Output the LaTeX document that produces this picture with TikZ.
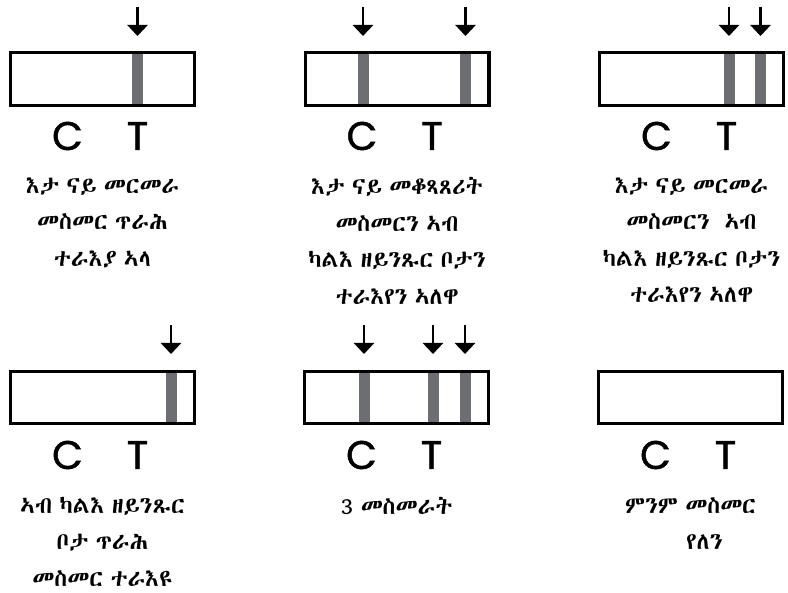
\documentclass[tikz,border=0pt]{standalone}
\usepackage{fontspec}
\IfFontExistsTF{Abyssinica SIL}{\newfontfamily\ethfont[WordSpace=0.7]{Abyssinica SIL}}{%
  \IfFontExistsTF{FreeSerif}{\newfontfamily\ethfont[WordSpace=0.7]{FreeSerif}}{%
    \newfontfamily\ethfont{DejaVu Sans}}}
\newfontfamily\letterfont[FakeBold=1.2]{Poppins}
\usetikzlibrary{shapes,arrows.meta}
\definecolor{bandgray}{HTML}{6D6E71}
\tikzstyle{strip} = [draw, line width=3.3pt, rectangle,
    minimum width=183.7pt, minimum height=52.6pt, inner sep=0pt]
\tikzstyle{band} = [fill=bandgray, rectangle, inner sep=0pt,
    minimum width=11pt, minimum height=52.6pt]
\tikzstyle{pointer} = [line width=2.6pt, -{Triangle[width=20pt,length=11pt]}]
\tikzstyle{letter} = [font=\letterfont\fontsize{40}{40}\selectfont, anchor=base, inner sep=0pt]
\tikzstyle{caption} = [font=\ethfont\fontsize{23.5}{36.5}\selectfont, align=center,
    anchor=north, inner sep=0pt]

\begin{document}
\begin{tikzpicture}[x=1pt,y=-1pt]
\useasboundingbox (0,0) rectangle (788,593);

% top row
\node[band] (b1) at (137.5,79) {};
\node[strip] (s1) at (102.5,79) {};
\coordinate (t1) at (137.5,7);
\coordinate (h1) at (137.5,36);
\draw[pointer] (t1) -- (h1);
\node[letter] (c1) at (67.5,150) {C};
\node[letter] (x1) at (137.5,150) {T};
\node[caption] (l1) at (102.5,177.5) {እታ ናይ መርመራ\\መስመር ጥራሕ\\ተራእያ ኣላ};

\node[band] (b2a) at (363,79) {};
\node[band] (b2b) at (465.5,79) {};
\node[strip] (s2) at (397,79) {};
\coordinate (t2a) at (363,7);
\coordinate (h2a) at (363,36);
\coordinate (t2b) at (465.5,7);
\coordinate (h2b) at (465.5,36);
\draw[pointer] (t2a) -- (h2a);
\draw[pointer] (t2b) -- (h2b);
\node[letter] (c2) at (362,150) {C};
\node[letter] (x2) at (432,150) {T};
\node[caption] (l2) at (397,177.5) {እታ ናይ መቆጻጸሪት\\መስመርን ኣብ\\ካልእ ዘይንጹር ቦታን\\ተራእየን ኣለዋ};

\node[band] (b3a) at (729,79) {};
\node[band] (b3b) at (760.5,79) {};
\node[strip] (s3) at (691.5,79) {};
\coordinate (t3a) at (729,7);
\coordinate (h3a) at (729,36);
\coordinate (t3b) at (760.5,7);
\coordinate (h3b) at (760.5,36);
\draw[pointer] (t3a) -- (h3a);
\draw[pointer] (t3b) -- (h3b);
\node[letter] (c3) at (656.5,150) {C};
\node[letter] (x3) at (726.5,150) {T};
\node[caption] (l3) at (691.5,177.5) {እታ ናይ መርመራ\\መስመርን~ ኣብ\\ካልእ ዘይንጹር ቦታን\\ተራእየን ኣለዋ};

% bottom row
\node[band] (b4) at (171,397.5) {};
\node[strip] (s4) at (102.5,397.5) {};
\coordinate (t4) at (171,325);
\coordinate (h4) at (171,354);
\draw[pointer] (t4) -- (h4);
\node[letter] (c4) at (67.5,469) {C};
\node[letter] (x4) at (137.5,469) {T};
\node[caption] (l4) at (102.5,497) {ኣብ ካልእ ዘይንጹር\\ቦታ ጥራሕ\\መስመር ተራእዩ};

\node[band] (b5a) at (364,397.5) {};
\node[band] (b5b) at (433,397.5) {};
\node[band] (b5c) at (465,397.5) {};
\node[strip] (s5) at (396.5,397.5) {};
\coordinate (t5a) at (364,325);
\coordinate (h5a) at (364,354);
\coordinate (t5b) at (433,325);
\coordinate (h5b) at (433,354);
\coordinate (t5c) at (465,325);
\coordinate (h5c) at (465,354);
\draw[pointer] (t5a) -- (h5a);
\draw[pointer] (t5b) -- (h5b);
\draw[pointer] (t5c) -- (h5c);
\node[letter] (c5) at (361.5,469) {C};
\node[letter] (x5) at (431.5,469) {T};
\node[caption] (l5) at (396.5,497) {3 መስመራት};

\node[strip] (s6) at (690.5,397.5) {};
\node[letter] (c6) at (655.5,469) {C};
\node[letter] (x6) at (725.5,469) {T};
\node[caption] (l6) at (690.5,497) {ምንም መስመር\\\hspace*{1.2em}የለን};
\end{tikzpicture}
\end{document}
